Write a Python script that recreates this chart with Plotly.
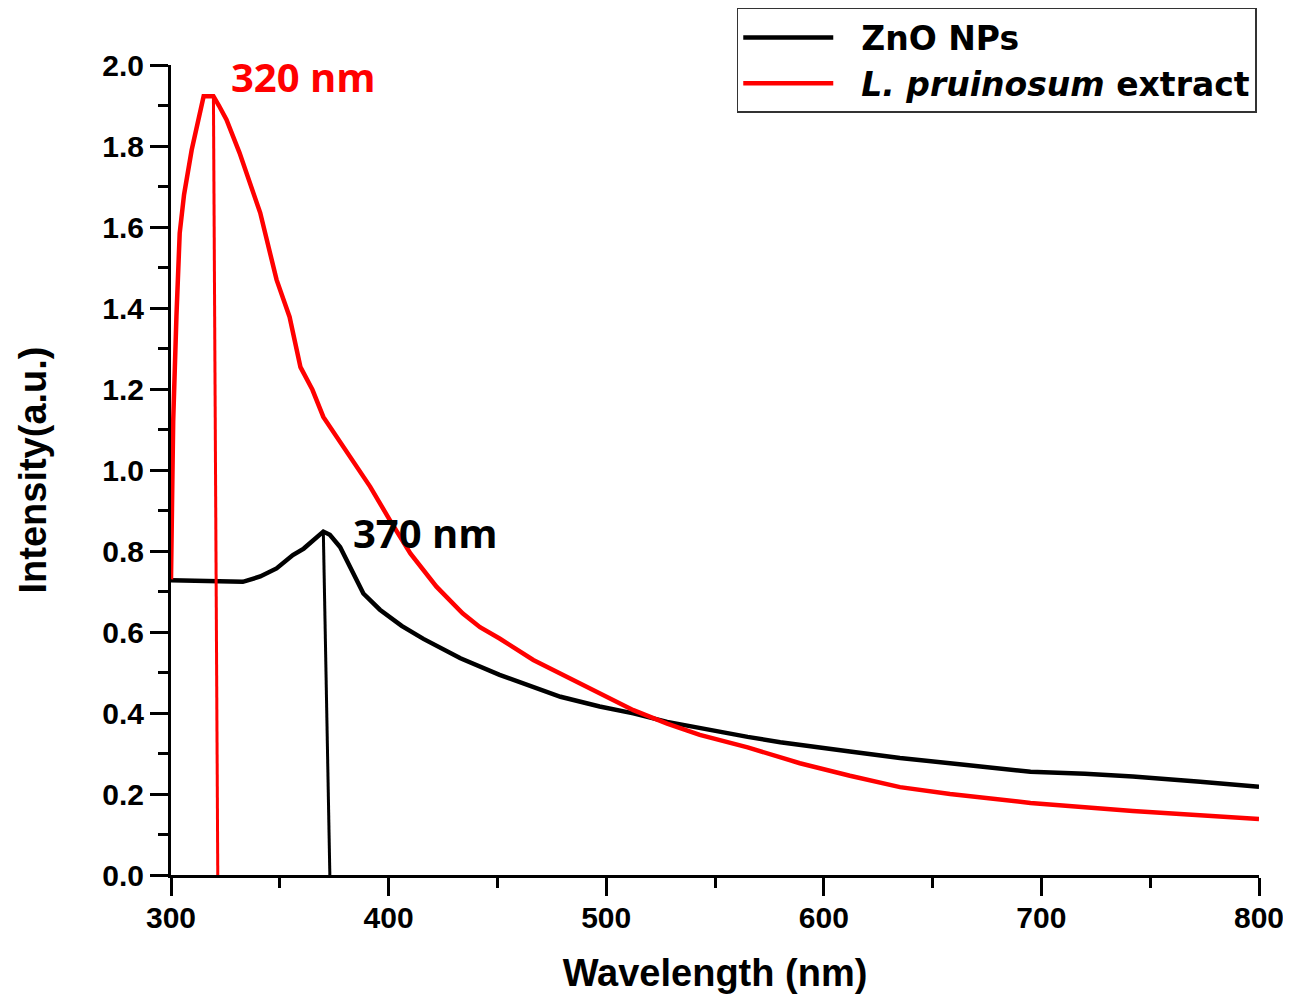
import plotly.graph_objects as go

# ZnO NPs spectrum
zno_x = [300, 320, 333, 341, 348.5, 356, 361, 370, 373, 377.7, 382.3, 388.4, 396, 406, 416,
         427, 433, 451, 466.5, 479, 497, 512.5, 528, 543, 565, 580, 589, 612, 635, 658, 681,
         695, 720, 742, 773, 800]
zno_y = [0.728, 0.724, 0.724, 0.737, 0.757, 0.79, 0.806, 0.848, 0.84, 0.81, 0.761, 0.695,
         0.655, 0.615, 0.583, 0.55, 0.535, 0.494, 0.465, 0.44, 0.416, 0.399, 0.378, 0.362,
         0.341, 0.328, 0.321, 0.305, 0.289, 0.276, 0.264, 0.255, 0.25, 0.243, 0.23, 0.218]

# L. pruinosum extract spectrum
ext_x = [300, 301, 302.5, 304, 306, 309.5, 315, 319.5, 322, 325.5, 331.5, 341, 348.5, 354.5,
         359.5, 365, 370, 373, 382, 391.5, 400.5, 410, 422, 434, 442, 451, 466.5, 482, 497,
         512.5, 528, 543, 565, 589, 612, 635, 658, 681, 695, 742, 773, 800]
ext_y = [0.73, 1.12, 1.38, 1.585, 1.68, 1.79, 1.923, 1.923, 1.90, 1.865, 1.783, 1.635, 1.47,
         1.378, 1.254, 1.198, 1.131, 1.107, 1.033, 0.959, 0.877, 0.794, 0.712, 0.646, 0.612,
         0.584, 0.531, 0.49, 0.449, 0.407, 0.374, 0.346, 0.315, 0.276, 0.245, 0.217, 0.20,
         0.187, 0.178, 0.158, 0.147, 0.138]

# peak marker lines
ext_peak_x = [319.5, 321.5]
ext_peak_y = [1.923, 0.0]
zno_peak_x = [370, 373]
zno_peak_y = [0.848, 0.0]

peak_labels = ["320 nm", "370 nm"]
peak_label_pos = [(326.5, 1.972), (382.8, 0.845)]

FONT = "Liberation Sans"
NB = "\u00a0\u00a0"

fig = go.Figure()
fig.add_trace(go.Scatter(x=zno_x, y=zno_y, mode="lines", name=NB + "ZnO NPs",
                         line=dict(color="black", width=4.5)))
fig.add_trace(go.Scatter(x=ext_x, y=ext_y, mode="lines", name=NB + "<i>L. pruinosum</i> extract",
                         line=dict(color="#ff0000", width=4.5)))
fig.add_trace(go.Scatter(x=ext_peak_x, y=ext_peak_y, mode="lines", showlegend=False,
                         line=dict(color="#ff0000", width=3)))
fig.add_trace(go.Scatter(x=zno_peak_x, y=zno_peak_y, mode="lines", showlegend=False,
                         line=dict(color="black", width=3)))

fig.add_annotation(x=peak_label_pos[0][0], y=peak_label_pos[0][1], text=peak_labels[0],
                   showarrow=False, xanchor="left", yanchor="middle",
                   font=dict(family="Open Sans", size=40, color="#ff0000", weight="bold"))
fig.add_annotation(x=peak_label_pos[1][0], y=peak_label_pos[1][1], text=peak_labels[1],
                   showarrow=False, xanchor="left", yanchor="middle",
                   font=dict(family="Open Sans", size=40, color="black", weight="bold"))

axis_common = dict(showline=True, linecolor="black", linewidth=3, ticks="outside",
                   ticklen=18, tickwidth=3, tickcolor="black", showgrid=False,
                   zeroline=False, mirror=False, automargin=False,
                   tickfont=dict(family=FONT, size=30, color="black", weight="bold"))

fig.update_xaxes(range=[300, 800], tickvals=[300, 400, 500, 600, 700, 800],
                 ticklabelstandoff=-4,
                 minor=dict(ticks="outside", ticklen=10, tickwidth=3, tickcolor="black", dtick=50),
                 title=dict(text="Wavelength (nm)", standoff=27,
                            font=dict(family=FONT, size=38, color="black", weight="bold")),
                 **axis_common)
fig.update_yaxes(range=[0, 2.0], tickvals=[0, 0.2, 0.4, 0.6, 0.8, 1.0, 1.2, 1.4, 1.6, 1.8, 2.0],
                 ticktext=["0.0", "0.2", "0.4", "0.6", "0.8", "1.0", "1.2", "1.4", "1.6", "1.8", "2.0"],
                 minor=dict(ticks="outside", ticklen=10, tickwidth=3, tickcolor="black", dtick=0.1),
                 title=dict(text="Intensity(a.u.)", standoff=44,
                            font=dict(family=FONT, size=38, color="black", weight="bold")),
                 **axis_common)

# the page body adds an 8px margin, so the figure is 8px smaller than the window
fig.update_layout(
    width=1283, height=988,
    margin=dict(l=163, r=32, t=57, b=121, autoexpand=False),
    paper_bgcolor="white", plot_bgcolor="white",
    legend=dict(x=0.52, y=1.0704, xanchor="left", yanchor="top",
                bordercolor="#333333", borderwidth=1.5, bgcolor="white",
                itemwidth=90, tracegroupgap=0,
                font=dict(family="DejaVu Sans", size=33, color="black", weight="bold")),
)

fig.write_html("out.html")
